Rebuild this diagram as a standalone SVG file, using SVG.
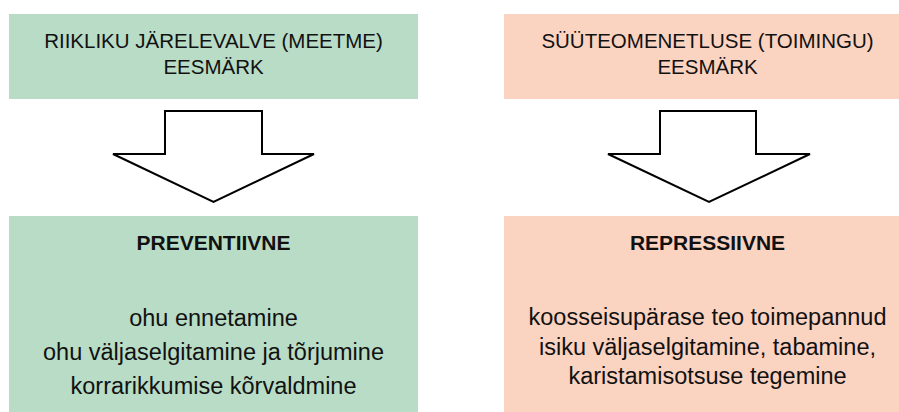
<svg xmlns="http://www.w3.org/2000/svg" width="899" height="412" viewBox="0 0 899 412">
  <style>
    .green { fill: #b8dcc6; }
    .peach { fill: #fbd3c1; }
    text { font-family: "Liberation Sans", Arial, sans-serif; fill: #111; text-anchor: middle; }
    .head { font-size: 20.5px; }
    .bold { font-size: 21px; font-weight: bold; }
    .body { font-size: 23.5px; }
    .arrow { fill: #fff; stroke: #000; stroke-width: 2; stroke-linejoin: miter; }
  </style>

  <!-- Top headings -->
  <g id="goal-supervision">
    <rect class="green" x="9" y="14" width="409" height="85"/>
    <text class="head" x="213.5" y="48">RIIKLIKU JÄRELEVALVE (MEETME)</text>
    <text class="head" x="213.5" y="74">EESMÄRK</text>
  </g>
  <g id="goal-proceedings">
    <rect class="peach" x="504" y="14" width="409" height="85"/>
    <text class="head" x="707.5" y="48">SÜÜTEOMENETLUSE (TOIMINGU)</text>
    <text class="head" x="707.5" y="74">EESMÄRK</text>
  </g>

  <!-- Block arrows -->
  <g id="connectors">
    <polygon class="arrow" points="165,111 262,111 262,154 314,154 213.5,202 113,154 165,154"/>
    <polygon class="arrow" points="660,111 756,111 756,154 810,154 709,202 608,154 660,154"/>
  </g>

  <!-- Bottom results -->
  <g id="preventive">
    <rect class="green" x="9" y="216" width="409" height="196"/>
    <text class="bold" x="213.5" y="250">PREVENTIIVNE</text>
    <text class="body" x="213.5" y="326">ohu ennetamine</text>
    <text class="body" x="213.5" y="360">ohu väljaselgitamine ja tõrjumine</text>
    <text class="body" x="213.5" y="394">korrarikkumise kõrvaldmine</text>
  </g>
  <g id="repressive">
    <rect class="peach" x="504" y="216" width="409" height="196"/>
    <text class="bold" x="707.5" y="250">REPRESSIIVNE</text>
    <text class="body" x="707.5" y="325">koosseisupärase teo toimepannud</text>
    <text class="body" x="707.5" y="355">isiku väljaselgitamine, tabamine,</text>
    <text class="body" x="707.5" y="384">karistamisotsuse tegemine</text>
  </g>
</svg>
